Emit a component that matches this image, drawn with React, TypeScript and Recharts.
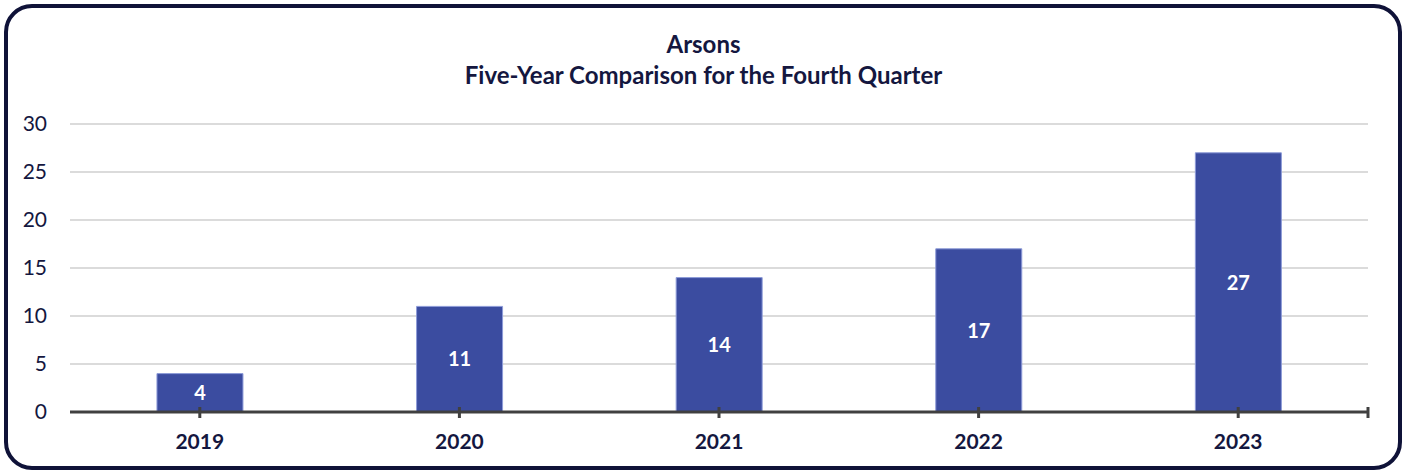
import React from 'react';
import { BarChart, Bar, XAxis, YAxis, CartesianGrid, LabelList } from 'recharts';

const years = ['2019', '2020', '2021', '2022', '2023'];
const arsons = [4, 11, 14, 17, 27];
const yTicks = [0, 5, 10, 15, 20, 25, 30];

const data = years.map((year, i) => ({ year, value: arsons[i] }));

const W = 1407;
const H = 471;
const margin = { top: 124, right: 39, left: 20, bottom: 29 };
const yAxisWidth = 50;
const halfBand = (W - margin.left - yAxisWidth - margin.right) / years.length / 2;

const navy = '#14173f';
const font = 'Lato, "Open Sans", sans-serif';

const YearTick = ({ x, y, payload, index }: any) => (
  <g>
    <line x1={x} x2={x} y1={y - 5} y2={y + 6} stroke="#404040" strokeWidth={3} />
    {index === years.length - 1 && (
      <line x1={x + halfBand} x2={x + halfBand} y1={y - 5} y2={y + 6} stroke="#404040" strokeWidth={3} />
    )}
    <text x={x} y={y + 37} textAnchor="middle" fill={navy} fontFamily={font} fontWeight={700} fontSize={21}>
      {payload.value}
    </text>
  </g>
);

const App: React.FC = () => {
  return (
    <div style={{ position: 'fixed', left: 0, top: 0, width: W, height: H, background: '#fff', overflow: 'hidden' }}>
      <div
        style={{
          position: 'absolute',
          left: 4,
          top: 4,
          width: 1398,
          height: 466,
          boxSizing: 'border-box',
          border: `4px solid #0f1238`,
          borderRadius: 28,
        }}
      />
      <div
        style={{
          position: 'absolute',
          left: 0,
          top: 28,
          width: W,
          textAlign: 'center',
          color: navy,
          fontFamily: font,
          fontWeight: 700,
          fontSize: 24,
          lineHeight: '31px',
        }}
      >
        <div>Arsons</div>
        <div>Five-Year Comparison for the Fourth Quarter</div>
      </div>
      <div style={{ position: 'absolute', left: 0, top: 0 }}>
        <BarChart width={W} height={H} data={data} margin={margin} barCategoryGap="33.5%">
          <CartesianGrid horizontal vertical={false} stroke="#cfcfcf" strokeWidth={1.5} />
          <YAxis
            width={yAxisWidth}
            domain={[0, 30]}
            ticks={yTicks}
            axisLine={false}
            tickLine={false}
            tickSize={0}
            tickMargin={23}
            tick={{ fill: navy, fontFamily: font, fontSize: 21 }}
          />
          <XAxis
            dataKey="year"
            height={30}
            axisLine={{ stroke: '#404040', strokeWidth: 3 }}
            tickLine={false}
            tickSize={0}
            tickMargin={0}
            tick={<YearTick />}
          />
          <Bar dataKey="value" fill="#3b4ca0" stroke="#8d9bd8" strokeWidth={1} isAnimationActive={false}>
            <LabelList
              dataKey="value"
              position="center"
              fill="#ffffff"
              fontFamily={font}
              fontWeight={700}
              fontSize={20}
            />
          </Bar>
        </BarChart>
      </div>
    </div>
  );
};

export default App;
